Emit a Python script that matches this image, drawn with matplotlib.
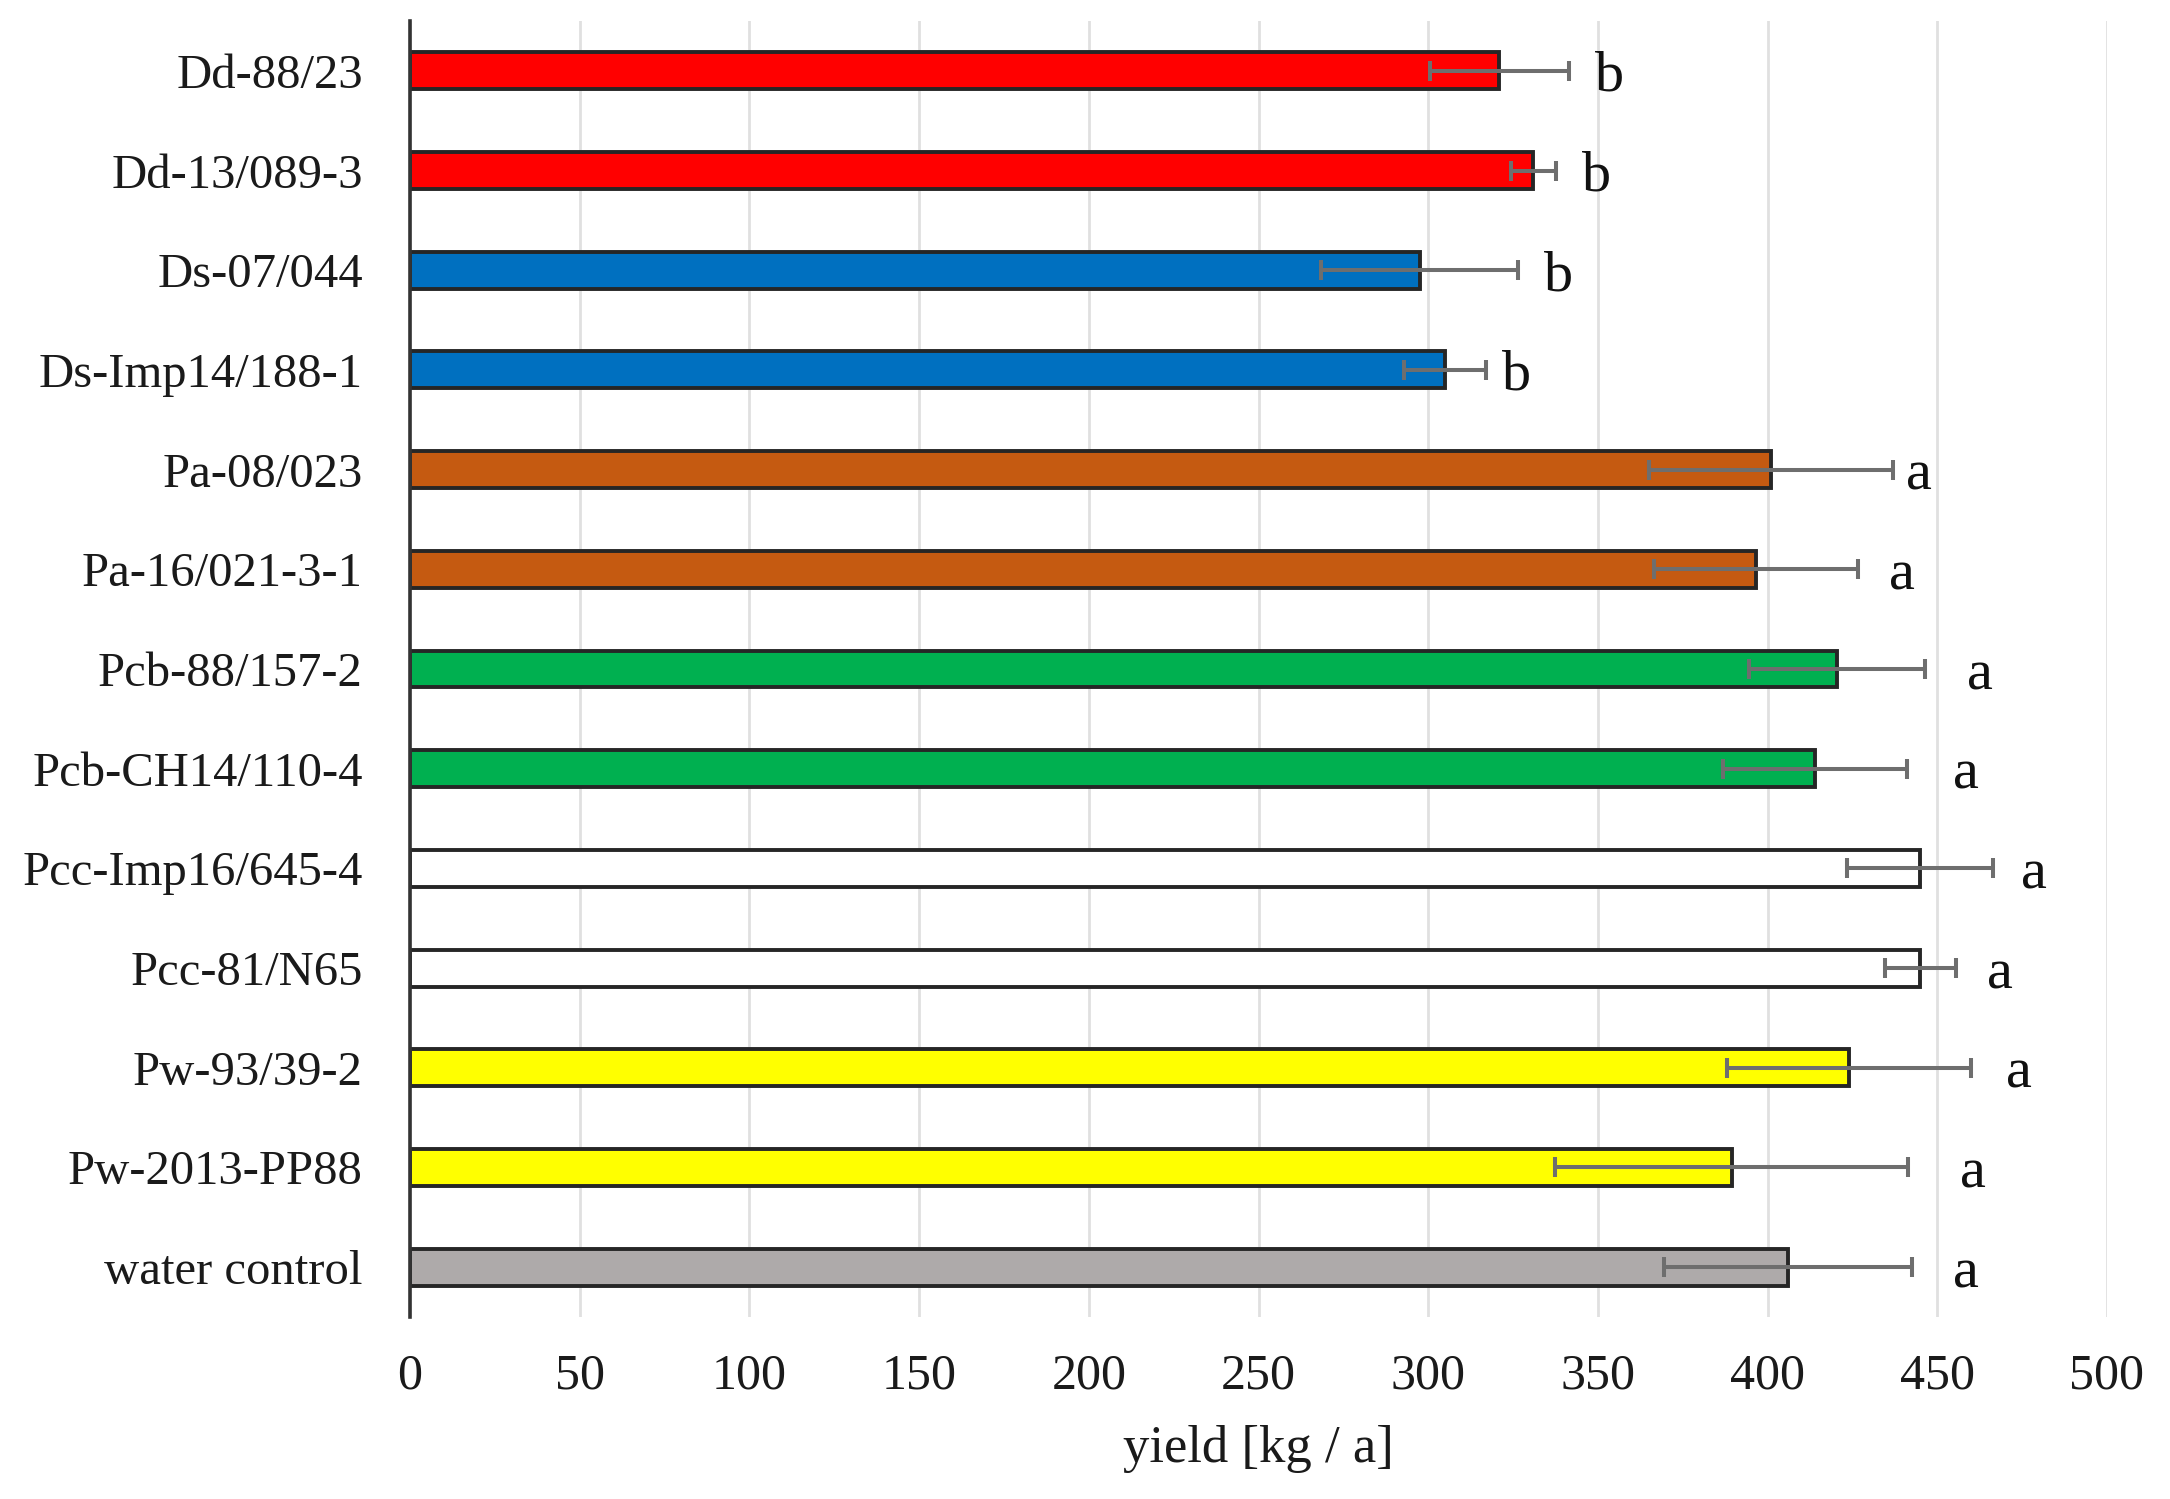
import numpy as np
import matplotlib
matplotlib.use("Agg")
import matplotlib.pyplot as plt

# data (kg / a)
strains = ["Dd-88/23", "Dd-13/089-3", "Ds-07/044", "Ds-Imp14/188-1",
           "Pa-08/023", "Pa-16/021-3-1", "Pcb-88/157-2", "Pcb-CH14/110-4",
           "Pcc-Imp16/645-4", "Pcc-81/N65", "Pw-93/39-2", "Pw-2013-PP88",
           "water control"]
yield_mean = [321, 331, 297.5, 305, 401, 396.5, 420.5, 414, 445, 445, 424, 389.5, 406]
yield_err = [20.5, 6.6, 29, 12, 36, 30, 26, 27, 21.5, 10.5, 36, 52, 36.5]
letters = ["b", "b", "b", "b", "a", "a", "a", "a", "a", "a", "a", "a", "a"]
letter_x = [353.5, 349.5, 338.5, 326, 444.5, 439.5, 462.5, 458.5, 478.5, 468.5, 474, 460.5, 458.5]
bar_colors = ["#FF0000", "#FF0000", "#0070C0", "#0070C0", "#C55A11", "#C55A11",
              "#00B050", "#00B050", "#FFFFFF", "#FFFFFF", "#FFFF00", "#FFFF00",
              "#AEAAAA"]

plt.rcParams['font.family'] = ['Liberation Serif', 'DejaVu Serif']

fig = plt.figure(figsize=(21.70, 14.99), dpi=100)
ax = fig.add_axes([410/2170, 1 - 1317/1499, 1697/2170, 1296/1499])

y = np.arange(len(strains))
ax.barh(y, yield_mean, height=0.37, color=bar_colors, edgecolor="#262626",
        linewidth=2.8, zorder=2)
ax.errorbar(yield_mean, y, xerr=yield_err, fmt="none", ecolor="#6e6e6e",
            elinewidth=2.9, capsize=7.2, capthick=2.9, zorder=3)

for yi, lx, lt in zip(y, letter_x, letters):
    ax.text(lx, yi, lt, ha="center", va="center_baseline", fontsize=42,
            color="#111111", clip_on=False)

ax.set_xlim(0, 500)
ax.set_ylim(len(strains) - 0.5, -0.5)
ax.set_xticks(np.arange(0, 501, 50))
ax.set_yticks(y)
ax.set_yticklabels(strains)
ax.tick_params(axis="y", length=0, pad=34, labelsize=35, labelcolor="#1a1a1a")
ax.tick_params(axis="x", length=0, pad=26, labelsize=36, labelcolor="#1a1a1a")
ax.grid(axis="x", color="#e0e0e0", linewidth=2)
ax.set_axisbelow(True)

for side in ["top", "right", "bottom"]:
    ax.spines[side].set_visible(False)
ax.spines["left"].set_color("#333333")
ax.spines["left"].set_linewidth(2.6)
ax.spines["left"].set_zorder(4)

ax.set_xlabel("yield [kg / a]", fontsize=38, color="#1a1a1a", labelpad=18)

plt.savefig("out.png", dpi=100)
